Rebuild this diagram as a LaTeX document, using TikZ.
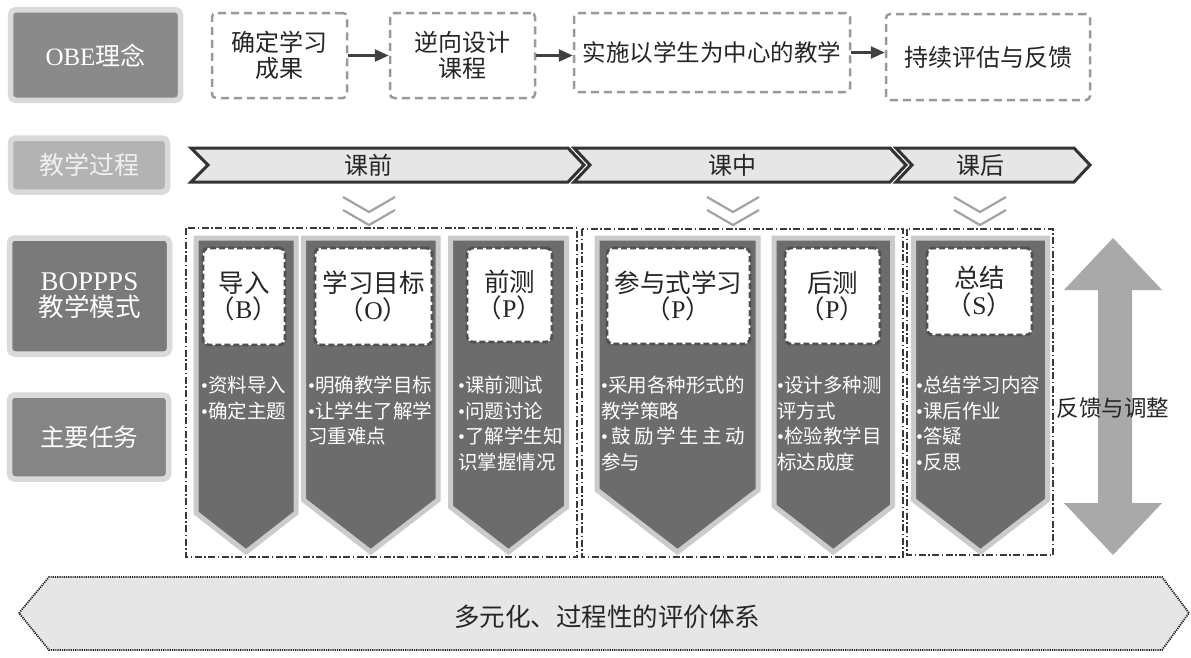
\documentclass[tikz,border=0pt]{standalone}
\usepackage{fontspec}
\usepackage{calc}
\setmainfont{Noto Sans CJK SC}
\newfontfamily\lat{Liberation Serif}
\usetikzlibrary{arrows.meta,calc}
\definecolor{lblout}{HTML}{DADADA}
\definecolor{obein}{HTML}{8A8A8A}
\definecolor{procin}{HTML}{B3B3B3}
\definecolor{bopin}{HTML}{7A7A7A}
\definecolor{taskin}{HTML}{858585}
\definecolor{dashgray}{HTML}{9A9A9A}
\definecolor{arrowdark}{HTML}{404040}
\definecolor{segfill}{HTML}{E6E6E6}
\definecolor{segline}{HTML}{333333}
\definecolor{vgray}{HTML}{A3A3A3}
\definecolor{grpline}{HTML}{3A3A3A}
\definecolor{colfill}{HTML}{6C6C6C}
\definecolor{colborder}{HTML}{CBCBCB}
\definecolor{lbldash}{HTML}{505050}
\definecolor{dblarrow}{HTML}{A9A9A9}
\definecolor{bannerfill}{HTML}{E6E6E6}
\definecolor{textdark}{HTML}{262626}
\definecolor{proctext}{HTML}{F0F0F0}
\newcommand\fsz[2]{\fontsize{#1}{#2}\selectfont}
\newcommand\bul{{\lat •}}
\tikzset{
  sidelbl/.style={draw=lblout, line width=5.5pt, rounded corners=5pt, inner sep=0pt, align=center, text=white},
  obebox/.style={draw=dashgray, line width=2.5pt, dash pattern=on 8pt off 5pt, rounded corners=4pt, fill=white, align=center, inner sep=0pt, text=textdark, font=\fsz{24}{26}},
  flow/.style={draw=arrowdark, line width=2.5pt, -{Triangle[length=14pt,width=12pt]}},
  seg/.style={fill=segfill, draw=segline, line width=3pt, line join=miter},
  segtext/.style={text=textdark, font=\fsz{24}{26}, inner sep=0pt},
  vmark/.style={draw=vgray, line width=2.2pt},
  grp/.style={draw=grpline, line width=1.6pt, dash pattern=on 7pt off 2.5pt on 1.5pt off 2.5pt},
  colshape/.style={fill=colfill, draw=colborder, line width=5pt, line join=miter},
  lblbox/.style={fill=white, draw=lbldash, line width=2.8pt, dash pattern=on 6pt off 3pt, rounded corners=6pt, align=center, inner sep=0pt, text=textdark, font=\fsz{25.5}{26.5}},
  task/.style={text=white, align=left, inner sep=0pt, font=\fsz{19.5}{25.6}},
  banner/.style={fill=bannerfill, draw=black!85, line width=1.8pt, dash pattern=on 1.2pt off 1pt},
}
\begin{document}
\begin{tikzpicture}[x=1pt,y=-1pt]
\useasboundingbox (0,0) rectangle (1191,657);
\fill[white] (0,0) rectangle (1191,657);

% left labels
\node[sidelbl, fill=obein, minimum width=170pt, minimum height=90.5pt, font=\fsz{25}{27}] (obe) at (95.5,55) {{\lat OBE}理念};
\node[sidelbl, fill=procin, minimum width=157pt, minimum height=54pt, font=\fsz{25}{27}, text=proctext] (proc) at (89,165) {教学过程};
\node[sidelbl, fill=bopin, minimum width=160pt, minimum height=116pt, font=\fsz{25.5}{26}] (bop) at (89.5,296) {{\lat\fsz{27}{26}BOPPPS}\\教学模式};
\node[sidelbl, fill=taskin, minimum width=159pt, minimum height=84pt, font=\fsz{24.5}{27}] (tasks) at (89,437) {主要任务};

% OBE flow
\node[obebox, minimum width=135pt, minimum height=85pt] (b1) at (279.5,55.5) {确定学习\\成果};
\node[obebox, minimum width=145pt, minimum height=85pt] (b2) at (462.5,55.5) {逆向设计\\课程};
\node[obebox, minimum width=276pt, minimum height=79pt, font=\fsz{23.5}{26}] (b3) at (712,52.5) {实施以学生为中心的教学};
\node[obebox, minimum width=204pt, minimum height=86pt] (b4) at (988,57) {持续评估与反馈};
\draw[flow] (b1.east) -- (b2.west);
\draw[flow] (b2.east) -- (b2.east -| b3.west);
\draw[flow] (b3.east) -- (b3.east -| b4.west);

% process bar
\draw[seg] (191,148) -- (568,148) -- (584,165) -- (568,182) -- (191,182) -- (208,165) -- cycle;
\draw[seg] (574,148) -- (890,148) -- (906,165) -- (890,182) -- (574,182) -- (590,165) -- cycle;
\draw[seg] (896,148) -- (1074,148) -- (1090,165) -- (1074,182) -- (896,182) -- (912,165) -- cycle;
\node[segtext] (pre) at (368,165) {课前};
\node[segtext] (mid) at (732,165) {课中};
\node[segtext] (post) at (980,165) {课后};

% chevron marks
\foreach \cx in {369,733,980}{
  \draw[vmark] (\cx-26,197) -- (\cx,212) -- (\cx+26,197);
  \draw[vmark] (\cx-26,210) -- (\cx,225) -- (\cx+26,210);
}

% groups
\draw[grp] (186,228) rectangle (577,557);
\draw[grp] (582,229) rectangle (903,557);
\draw[grp] (907,229) rectangle (1053,555);

% columns
\draw[colshape] (196,238) -- (296,238) -- (296,513) -- (246,552) -- (196,513) -- cycle;
\draw[colshape] (303.5,238) -- (438,238) -- (438,500) -- (370.75,552) -- (303.5,500) -- cycle;
\draw[colshape] (450.5,238) -- (566.5,238) -- (566.5,507) -- (508.5,552) -- (450.5,507) -- cycle;
\draw[colshape] (597,238) -- (758,238) -- (758,490) -- (677.5,552) -- (597,490) -- cycle;
\draw[colshape] (774,238) -- (892.5,238) -- (892.5,506) -- (833.25,552) -- (774,506) -- cycle;
\draw[colshape] (913.5,238) -- (1047.5,238) -- (1047.5,500) -- (980.5,552) -- (913.5,500) -- cycle;

% label boxes
\node[lblbox, minimum width=82pt, minimum height=97pt] (l1) at (244,296.5) {导入\\（{\lat B}）};
\node[lblbox, minimum width=117pt, minimum height=97pt] (l2) at (373.5,296.5) {学习目标\\（{\lat O}）};
\node[lblbox, minimum width=85pt, minimum height=94pt] (l3) at (509.5,295) {前测\\（{\lat P}）};
\node[lblbox, minimum width=143pt, minimum height=96pt] (l4) at (678.5,296) {参与式学习\\（{\lat P}）};
\node[lblbox, minimum width=95pt, minimum height=96pt] (l5) at (832.5,296) {后测\\（{\lat P}）};
\node[lblbox, minimum width=105pt, minimum height=87pt] (l6) at (979.5,291.5) {总结\\（{\lat S}）};

% tasks
\node[task, anchor=north west] (t1) at (201,376) {\bul 资料导入\\\bul 确定主题};
\node[task, anchor=north west] (t2) at (308,376) {\bul 明确教学目标\\\bul 让学生了解学\\习重难点};
\node[task, anchor=north west] (t3) at (458,376) {\bul 课前测试\\\bul 问题讨论\\\bul 了解学生知\\识掌握情况};
\node[task, anchor=north west] (t4) at (601,376) {\bul 采用各种形式的\\教学策略\\\makebox[\widthof{\bul 采用各种形式的}][s]{\bul\  鼓 励 学 生 主 动}\\参与};
\node[task, anchor=north west] (t5) at (777,376) {\bul 设计多种测\\评方式\\\bul 检验教学目\\标达成度};
\node[task, anchor=north west] (t6) at (916,376) {\bul 总结学习内容\\\bul 课后作业\\\bul 答疑\\\bul 反思};

% feedback double arrow
\fill[dblarrow] (1113,238) -- (1162,290) -- (1132,290) -- (1132,503) -- (1162,503) -- (1113,555) -- (1064,503) -- (1098,503) -- (1098,290) -- (1064,290) -- cycle;
\node[text=textdark, font=\fsz{22.5}{24}, inner sep=0pt] (fb) at (1113,408) {反馈与调整};

% evaluation banner
\draw[banner] (19,613) -- (49,577) -- (1162,577) -- (1189,613) -- (1162,650) -- (49,650) -- cycle;
\node[text=textdark, font=\fsz{25.5}{27}, inner sep=0pt] (eval) at (607,617) {多元化、过程性的评价体系};
\end{tikzpicture}
\end{document}
